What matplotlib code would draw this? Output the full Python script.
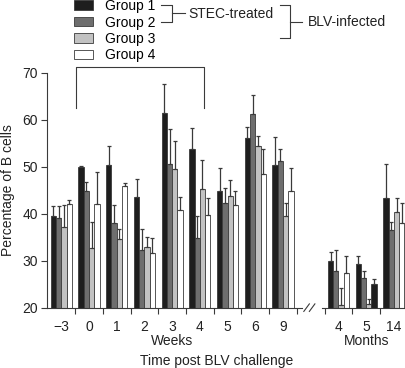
import numpy as np
import matplotlib.pyplot as plt
from matplotlib.patches import Patch

plt.rcParams['font.family'] = ['Liberation Sans', 'DejaVu Sans']

# time points: weeks, then months after the axis break
week_labels = ['\u22123', '0', '1', '2', '3', '4', '5', '6', '9']
month_labels = ['4', '5', '14']
positions = [0, 1, 2, 3, 4, 5, 6, 7, 8, 10, 11, 12]

# bar heights (mean) and top of the error bar for each group
g1 = [39.6, 50.0, 50.3, 43.6, 61.5, 53.7, 44.8, 56.1, 50.4, 29.9, 29.2, 43.4]
g1_up = [41.7, 50.2, 54.4, 47.3, 67.6, 58.2, 49.8, 58.4, 56.3, 31.9, 30.9, 50.6]
g2 = [39.0, 44.8, 38.1, 32.3, 50.5, 34.8, 42.2, 61.2, 51.3, 27.7, 26.3, 36.5]
g2_up = [41.6, 46.7, 41.8, 36.7, 58.1, 39.5, 45.5, 65.2, 53.8, 32.3, 27.9, 38.3]
g3 = [37.2, 32.6, 34.5, 32.8, 49.5, 45.3, 43.8, 54.3, 39.5, 20.6, 20.7, 40.4]
g3_up = [41.8, 38.3, 36.7, 35.1, 55.5, 51.4, 47.2, 56.5, 42.2, 24.1, 21.8, 43.4]
g4 = [42.0, 42.0, 45.8, 31.6, 40.8, 39.7, 41.8, 48.4, 44.8, 27.4, 25.0, 38.1]
g4_up = [42.9, 48.9, 46.5, 34.8, 43.5, 43.4, 44.8, 53.7, 49.7, 31.0, 26.2, 42.2]

groups = ['Group 1', 'Group 2', 'Group 3', 'Group 4']
colors = ['#1e1e1e', '#6e6e6e', '#c2c2c2', '#ffffff']

fs = 10
txt = '#222222'
ln = '#3a3a3a'

fig = plt.figure(figsize=(4.05, 3.68), dpi=100)
ax = fig.add_axes([0.117, 0.164, 0.883, 0.6386])

x = np.array(positions, dtype=float)
width = 0.19
offsets = np.array([-1.5, -0.5, 0.5, 1.5]) * width
all_means = [g1, g2, g3, g4]
all_ups = [g1_up, g2_up, g3_up, g4_up]

bars_by_group = []
for means, ups, off, col in zip(all_means, all_ups, offsets, colors):
    means = np.array(means)
    ups = np.array(ups)
    bars = ax.bar(x + off, means - 20, width, bottom=20, color=col,
                  edgecolor=ln, linewidth=0.6, zorder=2)
    bars_by_group.append(bars)
    ax.errorbar(x + off, means, yerr=[np.zeros_like(means), ups - means],
                fmt='none', ecolor=ln, elinewidth=0.9, capsize=1.6,
                capthick=0.9, zorder=3)

# the month-5 group 4 bar is drawn dark in the reference
bars_by_group[3][10].set_facecolor('#1e1e1e')

ax.set_xlim(-0.5, 12.4)
ax.set_ylim(20, 70)
ax.set_yticks(np.arange(20, 71, 10))
ax.tick_params(axis='y', direction='out', length=4, width=0.8, labelsize=fs,
               colors=ln, labelcolor=txt, pad=3)

# separator ticks between time points, labels centred on groups
sep = [i + 0.5 for i in range(9)] + [9.5, 10.5, 11.5]
ax.set_xticks(sep)
ax.set_xticklabels([])
ax.tick_params(axis='x', which='major', direction='out', length=4, width=0.8,
               colors=ln)
ax.set_xticks(positions, minor=True)
ax.set_xticklabels(week_labels + month_labels, minor=True)
ax.tick_params(axis='x', which='minor', length=0, labelsize=fs, pad=9,
               labelcolor=txt)

for s in ['top', 'right', 'bottom']:
    ax.spines[s].set_visible(False)
ax.spines['left'].set_color(ln)
ax.spines['left'].set_linewidth(0.8)

# broken x axis line
lk = dict(color=ln, lw=0.8, clip_on=False, zorder=4)
ax.plot([-0.5, 8.68], [20, 20], **lk)
ax.plot([9.4, 12.4], [20, 20], **lk)
ax.plot([8.75, 8.95], [19.2, 20.8], **lk)
ax.plot([8.95, 9.15], [19.2, 20.8], **lk)

ax.set_ylabel('Percentage of B cells', fontsize=fs, labelpad=5, color=txt)
ax.text(4, 13.0, 'Weeks', ha='center', va='center', fontsize=fs, color=txt)
ax.text(11, 13.0, 'Months', ha='center', va='center', fontsize=fs, color=txt)
ax.text(5.6, 8.6, 'Time post BLV challenge', ha='center', va='center',
        fontsize=fs, color=txt)

# bracket over the weeks
ax.plot([0.54, 0.54, 5.15, 5.15], [62.4, 71.1, 71.1, 62.4], color=ln,
        lw=0.8, clip_on=False)

# legend
handles = [Patch(facecolor=c, edgecolor=ln, linewidth=0.6) for c in colors]
ax.legend(handles, groups, loc='upper left', bbox_to_anchor=(74 / 405, 1 + 1 / 368),
          bbox_transform=fig.transFigure, frameon=False, fontsize=fs,
          handlelength=1.4, handleheight=0.65, handletextpad=0.8,
          labelspacing=0.18, borderpad=0, borderaxespad=0)

# group brackets next to the legend (figure pixel coordinates)
ov = fig.add_axes([0, 0, 1, 1], facecolor='none')
ov.set_xlim(0, 405)
ov.set_ylim(368, 0)
ov.axis('off')
bk = dict(color=ln, lw=0.8)
ov.plot([161, 172, 172, 161], [5, 5, 21.7, 21.7], **bk)
ov.plot([172, 185], [13.3, 13.3], **bk)
ov.text(188, 13.7, 'STEC-treated', ha='left', va='center', fontsize=fs,
        color=txt)
ov.plot([280, 290, 290, 280], [5, 5, 38, 38], **bk)
ov.plot([290, 302], [22, 22], **bk)
ov.text(308, 22, 'BLV-infected', ha='left', va='center', fontsize=fs,
        color=txt)

fig.savefig('out.png', dpi=100)
